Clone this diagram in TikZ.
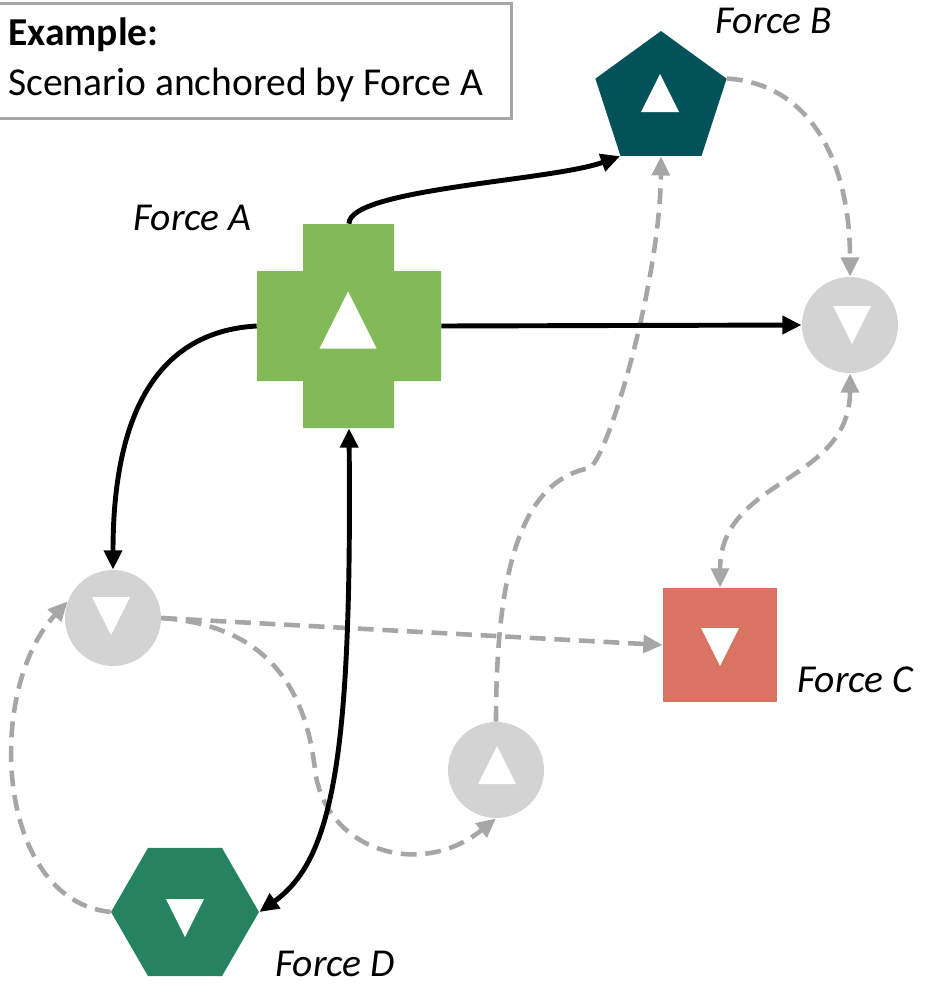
\documentclass[tikz,border=0pt]{standalone}
\usepackage{fontspec}
\setmainfont{Carlito}
\usetikzlibrary{shapes.geometric,arrows.meta}
\definecolor{forcea}{HTML}{82BA5A}
\definecolor{forceb}{HTML}{035259}
\definecolor{forcec}{HTML}{DA7362}
\definecolor{forced}{HTML}{25845F}
\definecolor{idlegray}{HTML}{D3D3D3}
\definecolor{linkgray}{HTML}{A6A6A6}
\begin{document}
\begin{tikzpicture}[x=0.02cm,y=-0.02cm,
		>={Triangle[length=11pt,width=10pt]},
		anchorlink/.style={line width=2.8pt},
		sidelink/.style={line width=2.6pt,linkgray,dash pattern=on 9pt off 5pt},
		idle/.style={circle,fill=idlegray,minimum size=1.92cm,inner sep=0pt},
		forcename/.style={anchor=base west,inner sep=0pt,text depth=0pt,font=\itshape},
		triup/.pic={\fill[white] (-19,19) -- (19,19) -- (0,-19) -- cycle;},
		tridown/.pic={\fill[white] (-19,-19) -- (19,-19) -- (0,19) -- cycle;}]
		\fontsize{22.5}{27}\selectfont
		\useasboundingbox (0,0) rectangle (928,987);
%		\draw[gray!30] (0,0) grid[step=50] (928,987);

		\node[draw=linkgray,line width=1.7pt,anchor=north west,inner sep=0pt,
			minimum width=10.3cm,minimum height=2.3cm] (note) at (-5,2) {};
		\node[anchor=base west,inner sep=0pt] (title) at (8,45) {\textbf{Example:}};
		\node[anchor=base west,inner sep=0pt] (subtitle) at (8,95) {Scenario anchored by Force A};

		% forces
		\node[inner sep=0pt,minimum width=3.68cm,minimum height=4.08cm] (A) at (349,326) {};
		\fill[forcea] (303,224) rectangle (394,428) (257,271) rectangle (441,381);
		\pic[scale=1.5] at (348,320) {triup};
		\node[regular polygon,regular polygon sides=5,fill=forceb,inner sep=0pt,
			minimum size=2.76cm] (B) at (661,100) {};
		\pic at (660,93) {triup};
		\node[rectangle,fill=forcec,inner sep=0pt,minimum size=2.28cm] (C) at (720,645) {};
		\pic at (720,647) {tridown};
		\node[regular polygon,regular polygon sides=6,fill=forced,inner sep=0pt,
			minimum size=2.96cm] (D) at (185,912) {};
		\pic at (185,918) {tridown};

		\node[idle] (Rc) at (850,325) {};
		\pic at (852,325) {tridown};
		\node[idle] (Lc) at (113,618) {};
		\pic at (111,616) {tridown};
		\node[idle] (Bc) at (496,770) {};
		\pic at (497,765) {triup};

		\node[forcename] (la) at (133,230) {Force A};
		\node[forcename] (lb) at (715,33) {Force B};
		\node[forcename] (lc) at (797,692) {Force C};
		\node[forcename] (ld) at (275,976) {Force D};

		% other links
		\draw[sidelink,->] (B.18) .. controls +(80,5) and +(0,-120) .. (Rc.north);
		\draw[sidelink,<->] (Rc.south) .. controls +(0,110) and +(0,-110) .. (C.north);
		\draw[sidelink,->] (Lc.east) -- (C.west);
		\draw[sidelink,->] (Bc.north) .. controls (496,560) and (525,480) .. (590,468)
			.. controls (610,452) and (660,280) .. (B.south);
		\draw[sidelink,->] (D.west) .. controls (-5,900) and (-15,690) .. (Lc.160);
		\draw[sidelink,->] (Lc.east) .. controls (260,625) and (305,680) .. (315,770)
			.. controls (325,850) and (420,880) .. (Bc.south);

		% links of Force A
		\draw[anchorlink,->] (A.north) .. controls +(0,-35) and +(-70,25) .. (B.234);
		\draw[anchorlink,->] (A.east) -- (Rc.west);
		\draw[anchorlink,->] (A.west) .. controls +(-90,5) and +(0,-170) .. (Lc.north);
		\draw[anchorlink,<->] (A.south) .. controls +(3,330) and +(73,-52) .. (D.east);
	\end{tikzpicture}
\end{document}
